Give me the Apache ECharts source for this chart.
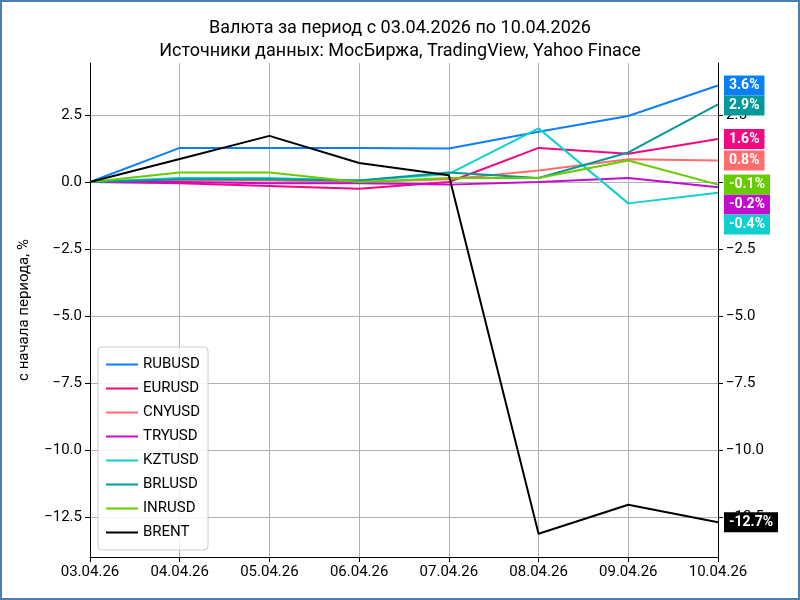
<!DOCTYPE html>
<html>
<head>
<meta charset="utf-8">
<script src="https://cdn.jsdelivr.net/npm/echarts@6/dist/echarts.min.js"></script>
<style>
html,body{margin:0;padding:0;background:#fff;}
#chart{width:796px;height:596px;border:2px solid #4a7fb5;}
</style>
</head>
<body>
<div id="chart"></div>
<script>
var dates = ['03.04.26','04.04.26','05.04.26','06.04.26','07.04.26','08.04.26','09.04.26','10.04.26'];
var names = ['RUBUSD','EURUSD','CNYUSD','TRYUSD','KZTUSD','BRLUSD','INRUSD','BRENT'];
var colors = ['#0a7ffa','#f5077f','#ff6d6d','#c40ccf','#10cfcf','#03999a','#66cc00','#000000'];
var yTicks = [-12.5, -10, -7.5, -5, -2.5, 0, 2.5];
var rubusd = [0, 1.27, 1.27, 1.27, 1.25, 1.87, 2.46, 3.6];
var eurusd = [0, -0.05, -0.15, -0.25, 0.0, 1.27, 1.05, 1.6];
var cnyusd = [0, 0.05, 0.05, 0.0, 0.1, 0.43, 0.85, 0.8];
var tryusd = [0, 0.0, -0.05, -0.05, -0.1, 0.0, 0.15, -0.2];
var kztusd = [0, 0.15, 0.15, 0.05, 0.3, 2.0, -0.8, -0.4];
var brlusd = [0, 0.1, 0.1, 0.05, 0.35, 0.15, 1.1, 2.9];
var inrusd = [0, 0.35, 0.35, 0.0, 0.15, 0.15, 0.8, -0.1];
var brent = [0, 0.86, 1.72, 0.71, 0.25, -13.13, -12.05, -12.7];
var values = [rubusd, eurusd, cnyusd, tryusd, kztusd, brlusd, inrusd, brent];

function fmt(v) { return v.toFixed(1).replace('-', '\u2212'); }

var chart = echarts.init(document.getElementById('chart'));
var series = names.map(function (n, i) {
  return {
    name: n, type: 'line', data: values[i], symbol: 'none',
    lineStyle: { width: 2, color: colors[i] }, itemStyle: { color: colors[i] },
    endLabel: {
      show: true, distance: 6, color: '#fff', fontWeight: 'bold', fontSize: 14,
      fontFamily: 'Roboto', backgroundColor: colors[i], padding: [3, 5],
      formatter: function (p) { return p.value.toFixed(1) + '%'; }
    },
    labelLayout: { moveOverlap: 'shiftY' }
  };
});

function yAxisCfg(pos, withName) {
  var a = {
    type: 'value', min: -14, max: 4.44, position: pos,
    axisLine: { show: true, onZero: false, lineStyle: { color: '#000' } },
    axisTick: { show: true, customValues: yTicks, lineStyle: { color: '#000' } },
    axisLabel: { color: '#000', fontSize: 15, customValues: yTicks, formatter: fmt },
    splitLine: { show: pos === 'left', lineStyle: { color: '#b0b0b0' } }
  };
  if (withName) {
    a.name = 'с начала периода, %';
    a.nameLocation = 'middle';
    a.nameGap = 58;
    a.nameTextStyle = { fontSize: 15, color: '#000' };
  }
  return a;
}

chart.setOption({
  animation: false,
  color: colors,
  textStyle: { fontFamily: 'Roboto' },
  title: {
    text: 'Валюта за период с 03.04.2026 по 10.04.2026\nИсточники данных: МосБиржа, TradingView, Yahoo Finace',
    left: 'center', top: 10,
    textStyle: { fontSize: 18, fontWeight: 'normal', color: '#000', lineHeight: 23, fontFamily: 'Roboto' }
  },
  legend: {
    orient: 'vertical', left: 96, bottom: 48, itemWidth: 32, itemHeight: 2, itemGap: 9,
    padding: [10, 8], borderColor: '#ccc', borderWidth: 1, borderRadius: 4,
    backgroundColor: 'rgba(255,255,255,0.85)',
    textStyle: { fontSize: 15, color: '#000' },
    icon: 'rect', data: names
  },
  grid: { left: 88, right: 80, top: 61, bottom: 41 },
  xAxis: {
    type: 'category', data: dates, boundaryGap: false,
    axisLine: { onZero: false, lineStyle: { color: '#000' } },
    axisTick: { show: true, alignWithLabel: true, lineStyle: { color: '#000' } },
    axisLabel: { color: '#000', fontSize: 15 },
    splitLine: { show: true, lineStyle: { color: '#b0b0b0' } }
  },
  yAxis: [yAxisCfg('left', true), yAxisCfg('right', false)],
  series: series
});
</script>
</body>
</html>
